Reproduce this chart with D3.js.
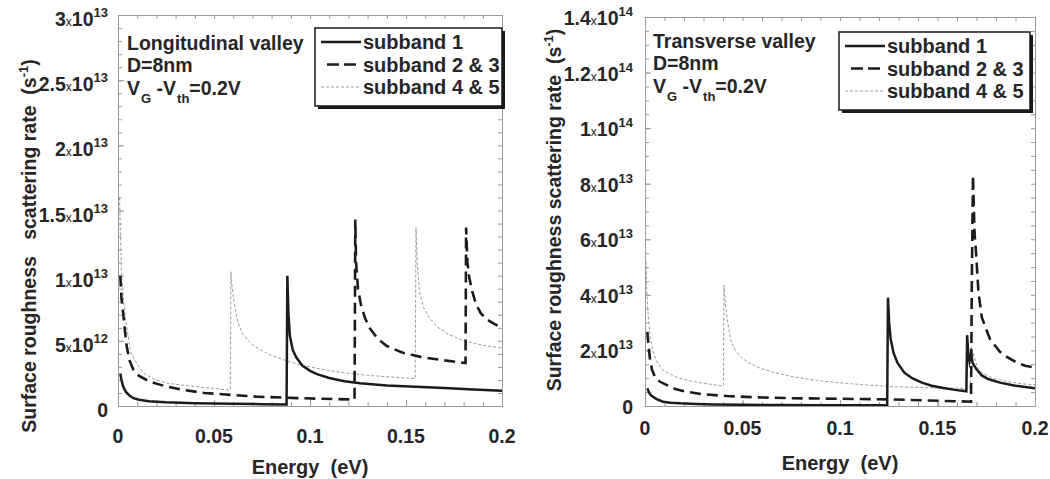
<!DOCTYPE html>
<html><head><meta charset="utf-8">
<script src="https://cdn.jsdelivr.net/npm/d3@7"></script>
<style>
html,body{margin:0;padding:0;background:#fff;}
svg text{font-family:"Liberation Sans",Arial,sans-serif;font-weight:bold;fill:#262626;white-space:pre;}
</style></head>
<body><svg id="c" width="1050" height="479"></svg>
<script>
// ---------- DATA (energy in eV, rate in units of 1e12 s^-1) ----------
const xTicks = [0, 0.05, 0.1, 0.15, 0.2];
const xTickLabels = ["0", "0.05", "0.1", "0.15", "0.2"];

const leftYTicks = [0, 5, 10, 15, 20, 25, 30];
const leftYMant = ["0", "5", "1", "1.5", "2", "2.5", "3"];
const leftYExp  = ["", "12", "13", "13", "13", "13", "13"];

const rightYTicks = [0, 20, 40, 60, 80, 100, 120, 140];
const rightYMant = ["0", "2", "4", "6", "8", "1", "1.2", "1.4"];
const rightYExp  = ["", "13", "13", "13", "13", "14", "14", "14"];

const seriesNames = ["subband 1", "subband 2 & 3", "subband 4 & 5"];

// Longitudinal valley
const long_sb1 = [[0.0012,2.5],[0.0018,2.0],[0.0027,1.5],[0.004,1.1],[0.006,0.8],[0.008,0.6],[0.011,0.48],[0.016,0.36],[0.025,0.28],[0.040,0.22],[0.060,0.17],[0.075,0.14],[0.0878,0.12],
  [0.0882,10.0],[0.0888,7.0],[0.0895,5.4],[0.091,4.3],[0.093,3.7],[0.096,3.1],[0.100,2.7],[0.1037,2.45],[0.110,2.15],[0.118,1.9],[0.126,1.75],[0.140,1.58],[0.155,1.47],[0.170,1.38],[0.185,1.27],[0.2,1.17]];
const long_sb23 = [[0.0012,10.0],[0.0018,8.3],[0.0027,7.1],[0.0036,5.8],[0.0045,4.6],[0.006,3.5],[0.008,2.8],[0.011,2.3],[0.0166,1.87],[0.025,1.5],[0.034,1.23],[0.045,1.0],[0.060,0.84],[0.072,0.72],[0.090,0.62],[0.105,0.56],[0.1232,0.5],
  [0.1236,14.3],[0.124,11.0],[0.125,9.0],[0.1265,7.8],[0.1285,6.8],[0.131,6.0],[0.135,5.2],[0.140,4.6],[0.148,4.1],[0.158,3.75],[0.170,3.5],[0.181,3.3],
  [0.1813,13.7],[0.182,11.0],[0.183,9.8],[0.1845,8.8],[0.1865,7.8],[0.189,7.1],[0.1925,6.6],[0.196,6.3],[0.2,6.0]];
const long_sb45 = [[0.0008,16.0],[0.0013,13.0],[0.0019,9.9],[0.003,8.0],[0.004,6.6],[0.0066,4.1],[0.010,3.2],[0.0135,2.5],[0.019,2.05],[0.0257,1.75],[0.035,1.58],[0.043,1.45],[0.052,1.32],[0.0585,1.22],
  [0.0588,10.3],[0.0595,9.0],[0.0608,7.6],[0.0625,6.4],[0.065,5.5],[0.070,4.7],[0.078,4.0],[0.087,3.5],[0.095,3.15],[0.105,2.85],[0.115,2.6],[0.130,2.35],[0.145,2.2],[0.1548,2.1],
  [0.1552,13.7],[0.1558,11.0],[0.157,8.8],[0.159,7.6],[0.162,6.8],[0.166,6.1],[0.172,5.5],[0.180,5.0],[0.190,4.65],[0.2,4.45]];

// Transverse valley
const trans_sb1 = [[0.0012,6.4],[0.002,5.0],[0.003,3.9],[0.0041,3.35],[0.006,2.5],[0.0092,1.55],[0.013,1.2],[0.018,0.95],[0.0263,0.7],[0.035,0.55],[0.050,0.42],[0.070,0.35],[0.090,0.3],[0.110,0.27],[0.1242,0.25],
  [0.1246,39.0],[0.1252,30.0],[0.126,24.0],[0.1275,19.0],[0.1295,15.5],[0.133,12.0],[0.137,10.0],[0.142,8.4],[0.147,7.3],[0.153,6.5],[0.159,5.8],[0.1648,5.3],
  [0.1652,25.5],[0.1658,18.5],[0.1664,16.0],[0.1672,19.0],[0.168,15.5],[0.170,13.2],[0.1727,11.0],[0.176,9.7],[0.182,8.4],[0.190,7.3],[0.2,6.4]];
const trans_sb23 = [[0.0012,26.7],[0.0017,22.6],[0.0026,16.6],[0.0036,13.0],[0.0051,10.5],[0.0075,8.8],[0.011,7.6],[0.0155,6.1],[0.0215,5.1],[0.030,4.2],[0.042,3.6],[0.058,3.1],[0.076,2.8],[0.100,2.6],[0.124,2.4],[0.150,1.9],[0.1672,1.55],
  [0.1676,45.0],[0.1682,83.0],[0.169,62.0],[0.1697,56.0],[0.171,41.0],[0.1727,32.0],[0.175,27.5],[0.177,24.0],[0.182,19.5],[0.186,17.5],[0.1906,15.6],[0.195,14.5],[0.2,13.8]];
const trans_sb45 = [[0.0005,52.0],[0.0009,42.0],[0.0013,36.0],[0.0017,32.0],[0.0025,26.0],[0.0033,22.5],[0.0043,19.0],[0.006,16.0],[0.0092,13.0],[0.0135,11.2],[0.0177,10.0],[0.023,9.0],[0.0297,8.2],[0.036,7.6],[0.0402,7.2],
  [0.0405,43.5],[0.0412,37.0],[0.042,32.0],[0.044,23.7],[0.046,20.5],[0.049,17.7],[0.053,15.6],[0.059,13.6],[0.066,12.1],[0.076,10.5],[0.088,9.2],[0.102,8.2],[0.115,7.5],[0.128,6.9],[0.145,6.6],[0.1665,6.3],
  [0.1672,12.0],[0.1684,19.0],[0.1695,16.0],[0.171,13.0],[0.174,11.5],[0.1785,10.0],[0.185,8.9],[0.192,8.1],[0.2,7.6]];

// ---------- DRAW ----------
const svg = d3.select("#c");
svg.append("rect").attr("width",1050).attr("height",479).attr("fill","#fff");

const styles = [
  {stroke:"#1c1c1c", width:2.5, dash:null},
  {stroke:"#1c1c1c", width:2.6, dash:"11,6"},
  {stroke:"#9a9a9a", width:1, dash:"3,2"}
];

function panel(cfg){
  const g = svg.append("g");
  const x = d3.scaleLinear().domain([0,0.2]).range([cfg.x0,cfg.x1]);
  const y = d3.scaleLinear().domain([0,cfg.ymax]).range([cfg.yb,cfg.yt]);
  const frame = "#9a9a9a";
  const minorX = d3.range(0,0.2001,0.01);
  const minorY = d3.range(0,cfg.ymax+0.001,cfg.yminor);
  const axes = [
    [d3.axisBottom(x).tickValues(minorX).tickSizeInner(-4).tickSizeOuter(0).tickFormat(""), `translate(0,${cfg.yb})`],
    [d3.axisTop(x).tickValues(minorX).tickSizeInner(-4).tickSizeOuter(0).tickFormat(""), `translate(0,${cfg.yt})`],
    [d3.axisLeft(y).tickValues(minorY).tickSizeInner(-4).tickSizeOuter(0).tickFormat(""), `translate(${cfg.x0},0)`],
    [d3.axisRight(y).tickValues(minorY).tickSizeInner(-4).tickSizeOuter(0).tickFormat(""), `translate(${cfg.x1},0)`],
    [d3.axisBottom(x).tickValues(xTicks).tickSizeInner(-6).tickSizeOuter(0).tickFormat(""), `translate(0,${cfg.yb})`],
    [d3.axisLeft(y).tickValues(cfg.yTicks).tickSizeInner(-6).tickSizeOuter(0).tickFormat(""), `translate(${cfg.x0},0)`]
  ];
  axes.forEach(([ax,tr])=>{
    const a = g.append("g").attr("transform",tr).call(ax);
    a.selectAll("path,line").attr("stroke",frame).attr("stroke-width",1);
  });

  g.selectAll(null).data(xTicks).join("text")
    .attr("x",d=>x(d)).attr("y",cfg.xlabY).attr("text-anchor","middle")
    .attr("font-size",19.5).text((d,i)=>xTickLabels[i]);
  cfg.yTicks.forEach((v,i)=>{
    const t = g.append("text").attr("x",cfg.x0-cfg.ylabGap).attr("y",y(v)+cfg.ylabDy)
      .attr("text-anchor","end").attr("font-size",19.5);
    t.append("tspan").text(cfg.mant[i]);
    if(cfg.exp[i]){
      t.append("tspan").attr("font-size",12).attr("font-weight","normal").text("x");
      t.append("tspan").text("10");
      t.append("tspan").attr("font-size",13).attr("dy",-9).text(cfg.exp[i]);
    }
  });

  const clipId = "clip"+cfg.id;
  svg.append("clipPath").attr("id",clipId).append("rect")
    .attr("x",cfg.x0).attr("y",cfg.yt).attr("width",cfg.x1-cfg.x0).attr("height",cfg.yb-cfg.yt);
  const line = d3.line().x(d=>x(d[0])).y(d=>y(d[1]));
  const cg = g.append("g").attr("clip-path",`url(#${clipId})`);
  [cfg.s3,cfg.s2,cfg.s1].forEach((s,k)=>{
    const st = styles[2-k];
    cg.append("path").datum(s).attr("d",line).attr("fill","none")
      .attr("stroke",st.stroke).attr("stroke-width",st.width)
      .attr("stroke-dasharray",st.dash).attr("stroke-linejoin","miter").attr("stroke-miterlimit",20);
  });

  const ax0 = cfg.annX;
  g.append("text").attr("x",ax0).attr("y",cfg.annY).attr("font-size",19.5).text(cfg.title);
  g.append("text").attr("x",ax0).attr("y",cfg.annY+22).attr("font-size",19.5).text("D=8nm");
  const vt = g.append("text").attr("x",ax0).attr("y",cfg.annY+45).attr("font-size",19.5);
  vt.append("tspan").text("V");
  vt.append("tspan").attr("font-size",13).attr("dy",8).attr("dx",1).text("G");
  vt.append("tspan").attr("dy",-8).text(" -V");
  vt.append("tspan").attr("font-size",13).attr("dy",8).attr("dx",1).text("th");
  vt.append("tspan").attr("dy",-8).text("=0.2V");

  const L = cfg.leg;
  g.append("rect").attr("x",L.x+3).attr("y",L.y+3).attr("width",L.w).attr("height",L.h).attr("fill","#1a1a1a");
  g.append("rect").attr("x",L.x).attr("y",L.y).attr("width",L.w).attr("height",L.h)
    .attr("fill","#fff").attr("stroke","#1a1a1a").attr("stroke-width",1.5);
  seriesNames.forEach((n,i)=>{
    const yy = L.y + 21 + i*22.5;
    const st = styles[i];
    const x0 = i===1 ? L.x+12 : L.x+6;
    g.append("line").attr("x1",x0).attr("x2",L.x+46).attr("y1",yy-7).attr("y2",yy-7)
      .attr("stroke",st.stroke).attr("stroke-width",st.width).attr("stroke-dasharray",i===1?"12,5":st.dash);
    g.append("text").attr("x",L.x+48).attr("y",yy).attr("font-size",20).text(n);
  });

  g.append("text").attr("x",(cfg.x0+cfg.x1)/2).attr("y",cfg.xtitleY).attr("text-anchor","middle")
    .attr("font-size",20).text("Energy  (eV)");
  const yt = g.append("text").attr("transform",`translate(${cfg.ytitleX},${cfg.ytitleC}) rotate(-90)`)
    .attr("text-anchor","middle").attr("font-size",19.5);
  yt.append("tspan").text(cfg.ytitle);
  yt.append("tspan").attr("font-size",13).attr("dy",-8).text("-1");
  yt.append("tspan").attr("dy",8).text(")");
}

panel({id:"L", x0:118, x1:502, yt:15, yb:406, ymax:30, yminor:1, yTicks:leftYTicks, mant:leftYMant, exp:leftYExp,
  xlabY:443, ylabGap:10, ylabDy:11, s1:long_sb1, s2:long_sb23, s3:long_sb45,
  annX:127, annY:50, title:"Longitudinal valley", leg:{x:315,y:28,w:187,h:78},
  xtitleY:474, ytitleX:36, ytitleC:246, ytitle:"Surface roughness   scattering rate  (s"});
panel({id:"R", x0:645, x1:1035, yt:17, yb:406, ymax:140, yminor:5, yTicks:rightYTicks, mant:rightYMant, exp:rightYExp,
  xlabY:435, ylabGap:12, ylabDy:8, s1:trans_sb1, s2:trans_sb23, s3:trans_sb45,
  annX:653, annY:48, title:"Transverse valley", leg:{x:839,y:32,w:191,h:78},
  xtitleY:470, ytitleX:561, ytitleC:210, ytitle:"Surface roughness scattering rate  (s"});
</script></body></html>
